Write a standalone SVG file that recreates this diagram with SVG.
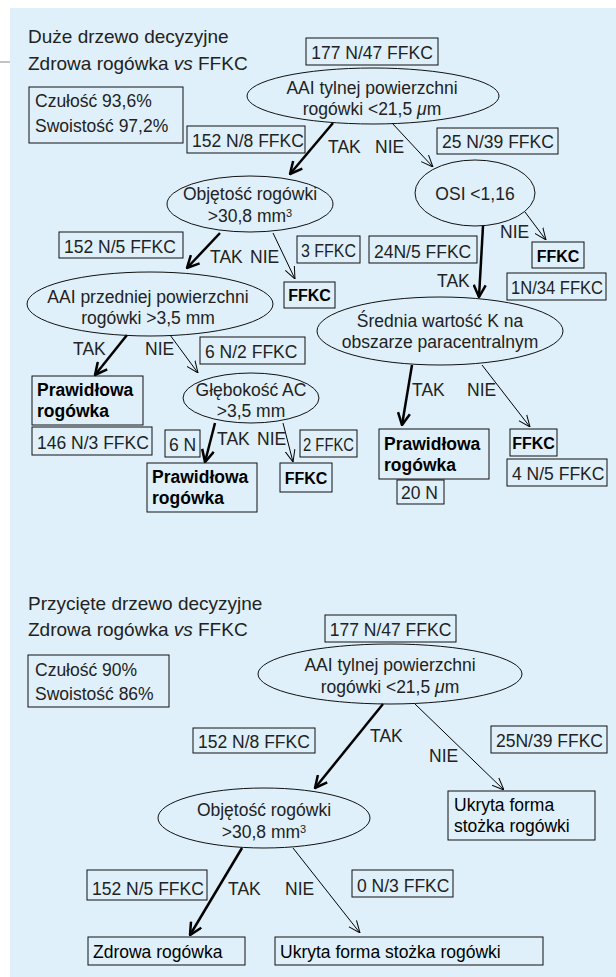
<svg xmlns="http://www.w3.org/2000/svg" width="616" height="977" viewBox="0 0 616 977">
<defs>
<style>
.t{font-family:"Liberation Sans",Arial,sans-serif;font-size:17.5px;fill:#222}
.ti{font-size:19px}
.c{text-anchor:middle}
.res{font-weight:bold;fill:#000;font-size:17.5px}
.ff{font-weight:bold;fill:#000;font-size:16px}
.res2{fill:#000}
.bx{fill:none;stroke:#111;stroke-width:1}
.el{fill:none;stroke:#111;stroke-width:1}
.sup{font-size:11px}
.thick{fill:none;stroke:#000;stroke-width:2.5;marker-end:url(#ah)}
.thin{fill:none;stroke:#000;stroke-width:1;marker-end:url(#al)}
</style>
<marker id="ah" viewBox="0 0 14 14" refX="13" refY="7" markerWidth="14" markerHeight="14" markerUnits="userSpaceOnUse" orient="auto">
<path d="M1,1 L13,7 L1,13" fill="none" stroke="#000" stroke-width="2.5"/>
</marker>
<marker id="al" viewBox="0 0 12 12" refX="12" refY="6" markerWidth="12" markerHeight="12" markerUnits="userSpaceOnUse" orient="auto">
<path d="M0,1 L12,6 L0,11" fill="none" stroke="#000" stroke-width="1"/>
</marker>
</defs>
<rect x="10" y="8" width="606" height="969" fill="#dff0fa"/>
<line x1="0" y1="62" x2="10" y2="62" stroke="#888" stroke-width="1"/>

<g id="connectors">
<path class="thick" d="M333,123 L290,174"/>
<path class="thin" d="M392,123 L433,167"/>
<path class="thick" d="M220,233 L187,268"/>
<path class="thin" d="M273,233 L295,279"/>
<path class="thin" d="M525,212 L546,240"/>
<path class="thick" d="M483,226 L479,297"/>
<path class="thick" d="M412,365 L402,425"/>
<path class="thin" d="M482,365 L530,427"/>
<path class="thick" d="M127,335 L95,375"/>
<path class="thin" d="M170,335 L198,373"/>
<path class="thick" d="M215,423 L205,462"/>
<path class="thin" d="M283,423 L293,462"/>
<path class="thick" d="M383,704 L315,788"/>
<path class="thin" d="M415,704 L504,790"/>
<path class="thick" d="M242,848 L190,935"/>
<path class="thin" d="M293,848 L360,933"/>
</g>

<g id="edge-labels" class="t">
<text x="328" y="153">TAK</text>
<text x="375" y="153">NIE</text>
<text x="210" y="263">TAK</text>
<text x="250" y="263">NIE</text>
<text x="500" y="238">NIE</text>
<text x="437" y="287">TAK</text>
<text x="412" y="396">TAK</text>
<text x="467" y="396">NIE</text>
<text x="73" y="355">TAK</text>
<text x="145" y="355">NIE</text>
<text x="217" y="445">TAK</text>
<text x="257" y="445">NIE</text>
<text x="370" y="742">TAK</text>
<text x="429" y="762">NIE</text>
<text x="228" y="895">TAK</text>
<text x="285" y="895">NIE</text>
</g>

<g id="title1" class="t ti">
<text x="28" y="43">Duże drzewo decyzyjne</text>
<text x="28" y="70">Zdrowa rogówka <tspan font-style="italic">vs</tspan> FFKC</text>
</g>
<g id="stats1" class="t">
<rect class="bx" x="29" y="87" width="154" height="56"/>
<text x="35" y="107">Czułość 93,6%</text>
<text x="35" y="132">Swoistość 97,2%</text>
</g>

<g id="root1" class="t">
<rect class="bx" x="306" y="38" width="132" height="27"/>
<text class="c" x="372" y="59">177 N/47 FFKC</text>
<ellipse class="el" cx="373" cy="96" rx="126" ry="28"/>
<text class="c" x="372" y="94">AAI tylnej powierzchni</text>
<text class="c" x="372" y="115">rogówki &lt;21,5 <tspan font-style="italic">μ</tspan>m</text>
</g>
<g id="lab152-8" class="t">
<rect class="bx" x="187" y="126" width="118" height="27"/>
<text x="192" y="147">152 N/8 FFKC</text>
</g>
<g id="lab25-39" class="t">
<rect class="bx" x="437" y="128" width="121" height="26"/>
<text x="442" y="148">25 N/39 FFKC</text>
</g>

<g id="objetosc1" class="t">
<ellipse class="el" cx="250" cy="204" rx="83" ry="28"/>
<text class="c" x="250" y="200">Objętość rogówki</text>
<text class="c" x="250" y="222">&gt;30,8 mm<tspan class="sup" dy="-5">3</tspan></text>
</g>
<g id="osi" class="t">
<ellipse class="el" cx="475" cy="193" rx="60" ry="33"/>
<text class="c" x="475" y="200">OSI &lt;1,16</text>
</g>
<g id="lab152-5" class="t">
<rect class="bx" x="59" y="232" width="124" height="26"/>
<text x="64" y="253">152 N/5 FFKC</text>
</g>
<g id="lab3" class="t">
<rect class="bx" x="297" y="236" width="63" height="27"/>
<text x="301" y="257" textLength="55" lengthAdjust="spacingAndGlyphs">3 FFKC</text>
</g>
<g id="lab24-5" class="t">
<rect class="bx" x="369" y="236" width="108" height="27"/>
<text x="374" y="258">24N/5 FFKC</text>
</g>
<g id="ffkc1" class="t">
<rect class="bx" x="284" y="282" width="51" height="26"/>
<text class="c ff" x="309.5" y="301">FFKC</text>
</g>
<g id="ffkc2" class="t">
<rect class="bx" x="532" y="242" width="52" height="26"/>
<text class="c ff" x="558" y="262">FFKC</text>
</g>
<g id="lab1-34" class="t">
<rect class="bx" x="507" y="273" width="99" height="27"/>
<text x="511" y="294" textLength="92" lengthAdjust="spacingAndGlyphs">1N/34 FFKC</text>
</g>

<g id="srednia" class="t">
<ellipse class="el" cx="440" cy="331" rx="123" ry="34"/>
<text class="c" x="440" y="327">Średnia wartość K na</text>
<text class="c" x="440" y="348">obszarze paracentralnym</text>
</g>
<g id="praw3" class="t">
<rect class="bx" x="379" y="429" width="110" height="50"/>
<text class="res" x="384" y="450">Prawidłowa</text>
<text class="res" x="384" y="471">rogówka</text>
</g>
<g id="lab20" class="t">
<rect class="bx" x="397" y="480" width="47" height="24"/>
<text x="401" y="499">20 N</text>
</g>
<g id="ffkc4" class="t">
<rect class="bx" x="510" y="429" width="47" height="27"/>
<text class="c ff" x="533.5" y="449">FFKC</text>
</g>
<g id="lab4-5" class="t">
<rect class="bx" x="507" y="459" width="100" height="27"/>
<text x="512" y="480">4 N/5 FFKC</text>
</g>

<g id="aaiprzed" class="t">
<ellipse class="el" cx="150" cy="304" rx="123" ry="32"/>
<text class="c" x="148" y="303">AAI przedniej powierzchni</text>
<text class="c" x="148" y="324">rogówki &gt;3,5 mm</text>
</g>
<g id="lab6-2" class="t">
<rect class="bx" x="200" y="337" width="105" height="27"/>
<text x="205" y="358">6 N/2 FFKC</text>
</g>
<g id="praw1" class="t">
<rect class="bx" x="32" y="376" width="111" height="49"/>
<text class="res" x="37" y="396">Prawidłowa</text>
<text class="res" x="37" y="417">rogówka</text>
</g>
<g id="lab146-3" class="t">
<rect class="bx" x="32" y="427" width="120" height="28"/>
<text x="37" y="449">146 N/3 FFKC</text>
</g>
<g id="glebokosc" class="t">
<ellipse class="el" cx="251" cy="398" rx="68" ry="25"/>
<text class="c" x="251" y="396">Głębokość AC</text>
<text class="c" x="251" y="417">&gt;3,5 mm</text>
</g>
<g id="lab6" class="t">
<rect class="bx" x="165" y="430" width="35" height="27"/>
<text x="169" y="451">6 N</text>
</g>
<g id="lab2" class="t">
<rect class="bx" x="300" y="430" width="57" height="27"/>
<text x="303" y="451" textLength="51" lengthAdjust="spacingAndGlyphs">2 FFKC</text>
</g>
<g id="praw2" class="t">
<rect class="bx" x="147" y="463" width="110" height="49"/>
<text class="res" x="152" y="483">Prawidłowa</text>
<text class="res" x="152" y="504">rogówka</text>
</g>
<g id="ffkc3" class="t">
<rect class="bx" x="280" y="463" width="52" height="29"/>
<text class="c ff" x="306" y="484">FFKC</text>
</g>

<g id="title2" class="t ti">
<text x="28" y="610">Przycięte drzewo decyzyjne</text>
<text x="28" y="636">Zdrowa rogówka <tspan font-style="italic">vs</tspan> FFKC</text>
</g>
<g id="stats2" class="t">
<rect class="bx" x="28" y="655" width="141" height="52"/>
<text x="35" y="676">Czułość 90%</text>
<text x="35" y="700">Swoistość 86%</text>
</g>
<g id="root2" class="t">
<rect class="bx" x="325" y="615" width="131" height="27"/>
<text class="c" x="390.5" y="636">177 N/47 FFKC</text>
<ellipse class="el" cx="390" cy="674" rx="132" ry="30"/>
<text class="c" x="390" y="671">AAI tylnej powierzchni</text>
<text class="c" x="390" y="693">rogówki &lt;21,5 <tspan font-style="italic">μ</tspan>m</text>
</g>
<g id="lab2-152-8" class="t">
<rect class="bx" x="193" y="728" width="122" height="25"/>
<text x="198" y="748">152 N/8 FFKC</text>
</g>
<g id="lab2-25-39" class="t">
<rect class="bx" x="491" y="726" width="116" height="27"/>
<text x="496" y="747">25N/39 FFKC</text>
</g>
<g id="ukryta1" class="t">
<rect class="bx" x="448" y="791" width="147" height="49"/>
<text class="res2" x="454" y="811">Ukryta forma</text>
<text class="res2" x="454" y="832">stożka rogówki</text>
</g>
<g id="objetosc2" class="t">
<ellipse class="el" cx="264" cy="818" rx="106" ry="30"/>
<text class="c" x="264" y="816">Objętość rogówki</text>
<text class="c" x="264" y="838">&gt;30,8 mm<tspan class="sup" dy="-5">3</tspan></text>
</g>
<g id="lab2-152-5" class="t">
<rect class="bx" x="87" y="870" width="120" height="30"/>
<text x="92" y="895">152 N/5 FFKC</text>
</g>
<g id="lab0-3" class="t">
<rect class="bx" x="352" y="870" width="101" height="27"/>
<text x="357" y="892">0 N/3 FFKC</text>
</g>
<g id="zdrowa" class="t">
<rect class="bx" x="88" y="937" width="157" height="28"/>
<text class="res2" x="93" y="958">Zdrowa rogówka</text>
</g>
<g id="ukryta2" class="t">
<rect class="bx" x="275" y="937" width="268" height="28"/>
<text class="res2" x="280" y="958">Ukryta forma stożka rogówki</text>
</g>
</svg>
